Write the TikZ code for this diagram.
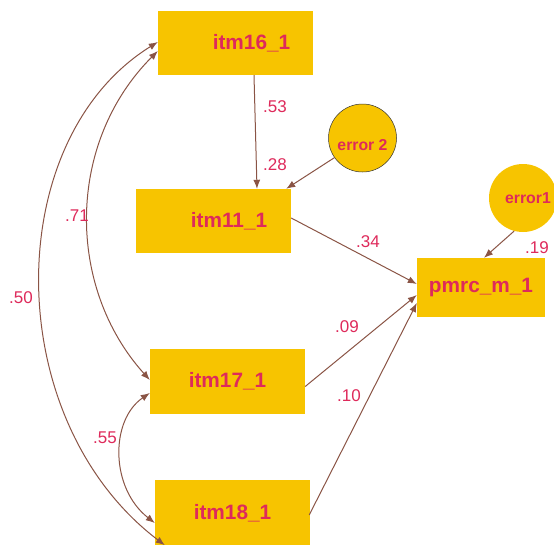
\documentclass[tikz,border=0pt]{standalone}
\usepackage{fontspec}
\setmainfont{Liberation Sans}
\usetikzlibrary{arrows.meta,calc}
\definecolor{boxy}{HTML}{F7C400}
\definecolor{txt}{HTML}{DE2A5B}
\definecolor{arr}{HTML}{8A5445}
\begin{document}
\begin{tikzpicture}[x=1pt,y=-1pt,
  var/.style={rectangle,fill=boxy,inner sep=0pt,minimum width=155pt,text=txt,font=\fontsize{20.8}{24}\selectfont\bfseries},
  err/.style={circle,fill=boxy,inner sep=0pt,minimum size=68pt,text=txt,font=\fontsize{15.8}{18}\selectfont\bfseries},
  coef/.style={text=txt,font=\fontsize{17}{20}\selectfont,inner sep=0pt},
  regr/.style={draw=arr,line width=1pt,-{Latex[length=9pt,width=7pt]}},
  cov/.style={draw=arr,line width=1pt,{Latex[length=9pt,width=7pt]}-{Latex[length=9pt,width=7pt]}}]
\useasboundingbox (0,0) rectangle (554,544);
% boxes
\node[var,minimum height=64pt] (itm16) at (235.5,43) {\hspace*{32pt}itm16\_1};
\node[var,minimum height=64pt] (itm11) at (213.5,221) {\hspace*{31pt}itm11\_1};
\node[var,minimum height=65pt] (itm17) at (227.5,381.5) {itm17\_1};
\node[var,minimum height=66pt] (itm18) at (232.5,513) {itm18\_1};
\node[var,minimum width=128pt,minimum height=59pt] (pmrc) at (481,287.5) {pmrc\_m\_1};
% errors
\node[err,draw=black!80,line width=0.5pt,text height=25pt] (err2) at (362.5,138) {error 2};
\node[err] (err1) at (523,198) {\hspace*{10pt}error1};
% regressions
\draw[regr] ($(itm16.south)+(18.5,0)$) -- ($(itm11.north)+(43.5,0)$);
\draw[regr] (err2.215) -- ($(itm11.north east)+(-5,0)$);
\draw[regr] (err1.-105) -- ($(pmrc.north)+(3,0)$);
\draw[regr] ($(itm11.east)+(0,-3)$) -- ($(pmrc.west)+(0,-3.5)$);
\draw[regr] ($(itm17.east)+(0,5)$) -- ($(pmrc.west)+(0,7.5)$);
\draw[regr] ($(itm18.east)+(-1,2)$) -- ($(pmrc.west)+(0,15.5)$);
% covariances
\draw[cov] ($(itm16.west)+(0,-1)$) .. controls (0,140) and (0,420) .. ($(itm18.south west)+(10,-1)$);
\draw[cov] ($(itm16.west)+(0,8)$) .. controls (66,143) and (66,287) .. ($(itm17.west)+(0,-1.5)$);
\draw[cov] ($(itm17.west)+(0,11.5)$) .. controls (110,420) and (110,488) .. ($(itm18.west)+(0,10)$);
% coefficients
\node[coef] (c53) at (275,107) {.53};
\node[coef] (c28) at (275,165) {.28};
\node[coef] (c71) at (77,216) {.71};
\node[coef] (c50) at (21,298) {.50};
\node[coef] (c55) at (105,438) {.55};
\node[coef] (c34) at (368,242) {.34};
\node[coef] (c19) at (537,248) {.19};
\node[coef] (c09) at (347,327) {.09};
\node[coef] (c10) at (349,396) {.10};
\end{tikzpicture}
\end{document}
